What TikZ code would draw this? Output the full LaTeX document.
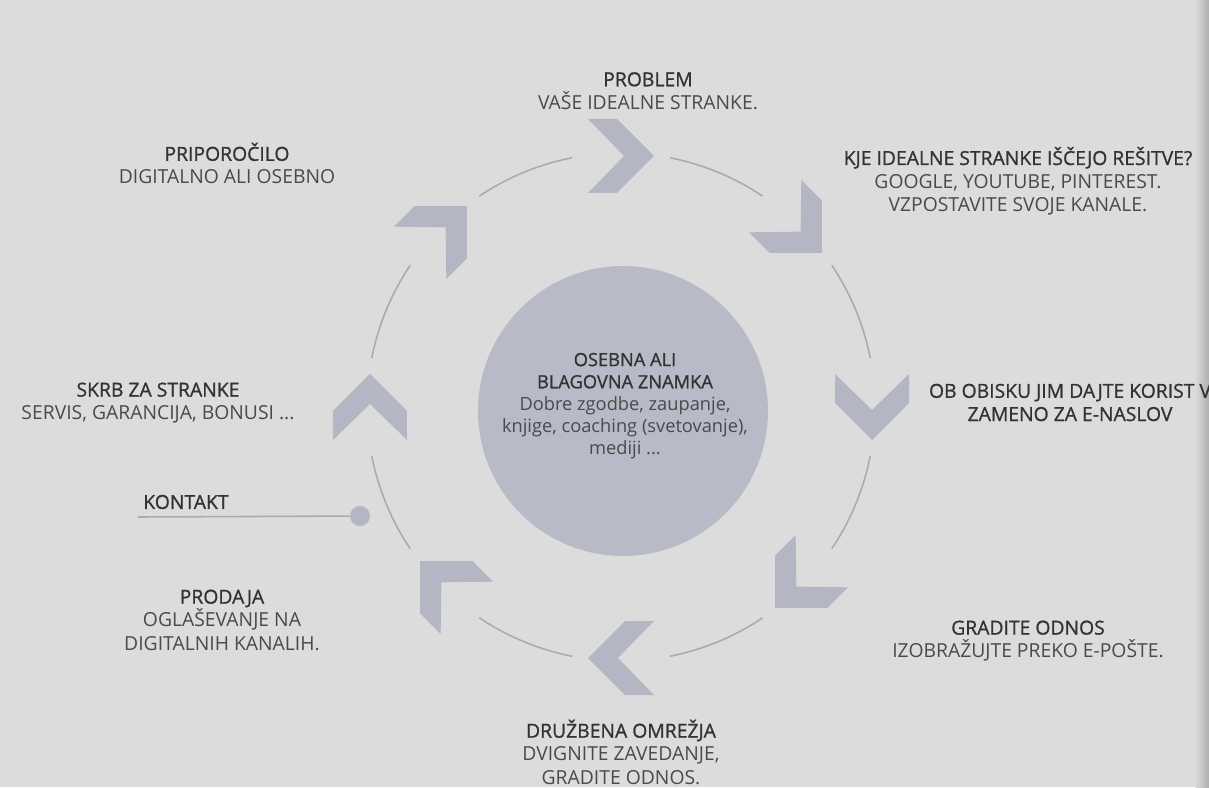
\documentclass[tikz,border=0pt]{standalone}
\usepackage{fontspec}
\setmainfont{Open Sans}
\newfontfamily\headfont{Open Sans}[FakeBold=1]
\definecolor{paper}{HTML}{DCDCDC}
\definecolor{chev}{HTML}{B5B6C4}
\definecolor{disc}{HTML}{B9BAC7}
\definecolor{ring}{HTML}{A9AAB6}
\definecolor{ink}{HTML}{333333}
\definecolor{inkb}{HTML}{4A4A4A}
\tikzset{
  lbl/.style={align=center, font=\fontsize{11}{13.2}\selectfont, text=inkb, inner sep=0pt},
  ringarc/.style={draw=ring, line width=0.9pt, line cap=round},
}
\newcommand{\hd}[1]{{\headfont\color{ink}#1}}
\begin{document}
\begin{tikzpicture}[x=0.02cm, y=0.02cm]
\fill[paper] (-621,-380) rectangle (588,407);
\useasboundingbox (-621,-380) rectangle (588,407);
% binding shadow
\shade[left color=paper, right color=black!32] (574,-380) rectangle (588,407);
% middle disc
\node[circle, fill=disc, minimum size=5.8cm, inner sep=0pt] (disc) at (2,-4){};
\node[lbl, font=\fontsize{10.4}{12.6}\selectfont] (brand) at (4,1){\hd{OSEBNA ALI}\\\hd{BLAGOVNA ZNAMKA}\\Dobre zgodbe, zaupanje,\\knjige, coaching (svetovanje),\\mediji ...};
% ring of arrows
\foreach \a in {0,45,...,315}
  \fill[chev, shift={(\a:251)}, rotate=\a-90] (33,0) -- (-4,37) -- (-33,37) -- (3,0) -- (-33,-37) -- (-4,-37) -- cycle;
\foreach \b [evaluate=\b as \bs using \b+11.3, evaluate=\b as \be using \b-11.3] in {22.5,67.5,...,337.5}
  \draw[ringarc] (\bs:254) arc[start angle=\bs, end angle=\be, radius=254];
% steps
\node[lbl] (st1) at (27,316){\hd{PROBLEM}\\VAŠE IDEALNE STRANKE.};
\node[lbl] (st2) at (397,226){\hd{KJE IDEALNE STRANKE IŠČEJO REŠITVE?}\\GOOGLE, YOUTUBE, PINTEREST.\\VZPOSTAVITE SVOJE KANALE.};
\node[lbl] (st3) at (449,4.5){\hd{OB OBISKU JIM DAJTE KORIST V}\\\hd{ZAMENO ZA E-NASLOV}};
\node[lbl] (st4) at (407,-234){\hd{GRADITE ODNOS}\\IZOBRAŽUJTE PREKO E-POŠTE.};
\node[lbl] (st5) at (0,-345){\hd{DRUŽBENA OMREŽJA}\\DVIGNITE ZAVEDANJE,\\GRADITE ODNOS.};
\node[lbl] (st6) at (-399,-213){\hd{PRODAJA}\\OGLAŠEVANJE NA\\DIGITALNIH KANALIH.};
\node[lbl] (st7) at (-463,4){\hd{SKRB ZA STRANKE}\\SERVIS, GARANCIJA, BONUSI ...};
\node[lbl] (st8) at (-394,243.5){\hd{PRIPOROČILO}\\DIGITALNO ALI OSEBNO};
% contact
\node[circle, fill=chev, minimum size=0.4cm, inner sep=0pt] (kdot) at (-261,-109){};
\coordinate (kend) at (-483,-110);
\draw[draw=ring, line width=0.9pt] (kend) -- (kdot);
\node[lbl, anchor=west] (kon) at (-478,-95){\hd{KONTAKT}};
\end{tikzpicture}
\end{document}
